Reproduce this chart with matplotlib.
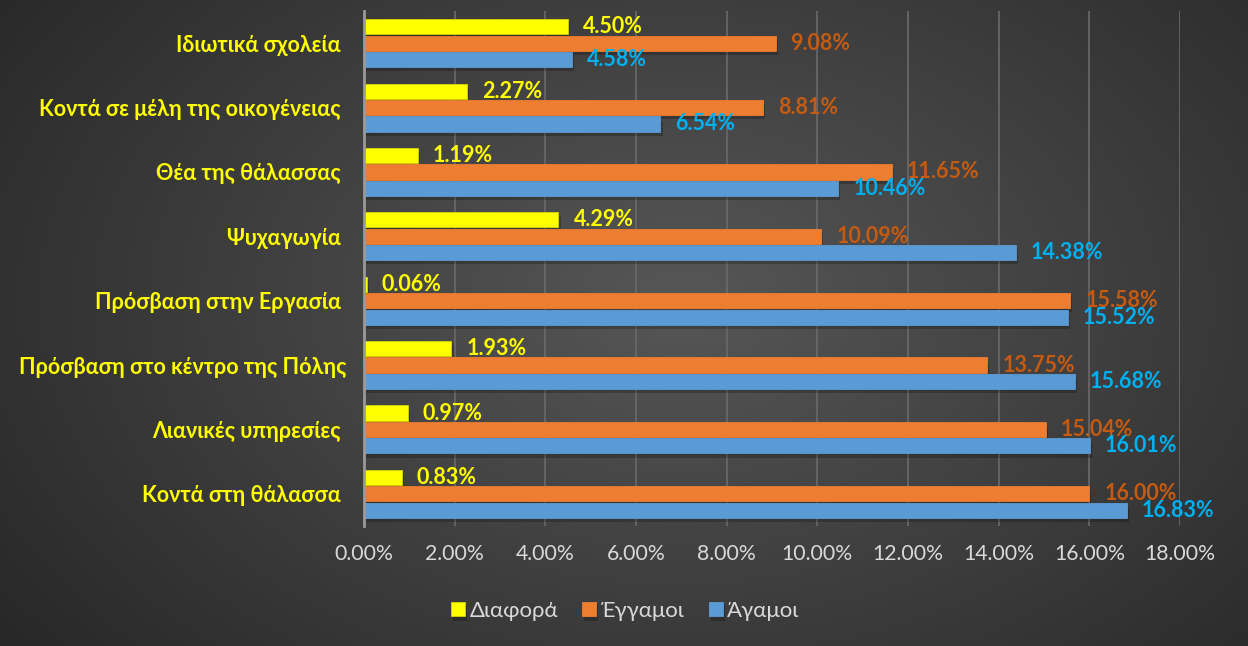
import numpy as np
import matplotlib.pyplot as plt
import matplotlib.patheffects as pe
from matplotlib.ticker import FuncFormatter

plt.rcParams['font.family'] = ['Lato', 'DejaVu Sans']

# data, top to bottom as in the chart
categories = ['Ιδιωτικά σχολεία ', 'Κοντά σε μέλη της οικογένειας ', 'Θέα της θάλασσας ',
              'Ψυχαγωγία ', 'Πρόσβαση στην Εργασία ', 'Πρόσβαση στο κέντρο της Πόλης',
              'Λιανικές υπηρεσίες ', 'Κοντά στη θάλασσα ']
diafora = [4.50, 2.27, 1.19, 4.29, 0.06, 1.93, 0.97, 0.83]
eggamoi = [9.08, 8.81, 11.65, 10.09, 15.58, 13.75, 15.04, 16.00]
agamoi = [4.58, 6.54, 10.46, 14.38, 15.52, 15.68, 16.01, 16.83]

series = [
    ('Διαφορά', diafora, '#FFFF00', '#FFFF00'),
    ('Έγγαμοι', eggamoi, '#ED7D31', '#C55A11'),
    ('Άγαμοι', agamoi, '#5B9BD5', '#00B0F0'),
]

fig = plt.figure(figsize=(12.48, 6.46), dpi=100)

# radial gradient background
bg = fig.add_axes([0, 0, 1, 1], zorder=-10)
yy, xx = np.mgrid[0:646, 0:1248]
r = np.sqrt(((xx - 680) / 780.0) ** 2 + ((yy - 300) / 520.0) ** 2)
shade = np.clip(0.34 - 0.17 * r, 0.14, 0.34)
bg.imshow(np.dstack([shade, shade, shade]), aspect='auto', extent=[0, 1, 0, 1])
bg.axis('off')

ax = fig.add_axes([364 / 1248, 1 - 526 / 646, (1180 - 364) / 1248, (526 - 11) / 646])
ax.set_facecolor('none')

y = np.arange(len(categories))
h = 0.235
offsets = [-0.255, 0.0, 0.255]
shadow = [pe.SimplePatchShadow(offset=(1.5, -3), shadow_rgbFace='black', alpha=0.22), pe.Normal()]

for (name, vals, col, lcol), off in zip(series, offsets):
    bars = ax.barh(y + off, np.array(vals) / 100, height=h, color=col, label=name,
                   edgecolor=col if name != 'Διαφορά' else '#D6D600', linewidth=0.6, zorder=3)
    for b in bars:
        b.set_path_effects(shadow)
    for yi, v in zip(y, vals):
        ax.text(v / 100 + 0.0033, yi + off, f'{v:.2f}%', color=lcol, fontsize=15.5,
                fontweight='bold', va='center', ha='left', zorder=5)

ax.set_xlim(0, 0.18)
ax.set_ylim(len(categories) - 0.5, -0.5)
ax.set_xticks(np.arange(0, 0.181, 0.02))
ax.xaxis.set_major_formatter(FuncFormatter(lambda v, p: f'{v * 100:.2f}%'))
ax.set_yticks(y)
ax.set_yticklabels(categories, color='#FFFF00', fontsize=15.5, fontweight='bold')
ax.tick_params(axis='y', length=0, pad=13)
ax.tick_params(axis='x', length=0, pad=13, labelcolor='#D9D9D9', labelsize=15.3)

ax.grid(axis='x', color='#6A6A6A', linewidth=1.2, zorder=0)
for s in ['top', 'right', 'bottom']:
    ax.spines[s].set_visible(False)
ax.spines['left'].set_color('#9A9A9A')
ax.spines['left'].set_linewidth(2)
ax.spines['left'].set_zorder(4)

leg = fig.legend(loc='center', bbox_to_anchor=(0.501, 1 - 611 / 646), ncol=3, frameon=False,
                 fontsize=16, handlelength=0.63, handleheight=0.63, handletextpad=0.2,
                 columnspacing=1.1)
for t in leg.get_texts():
    t.set_color('#D9D9D9')

fig.savefig('out.png', dpi=100)
